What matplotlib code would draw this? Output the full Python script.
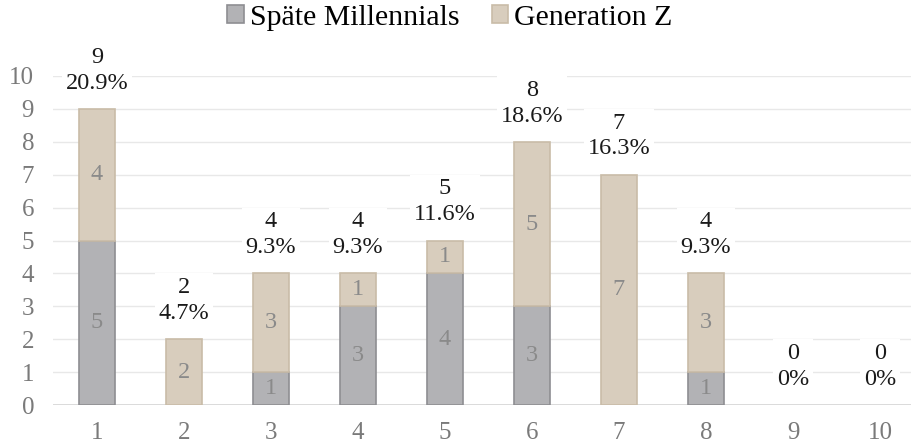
import matplotlib
matplotlib.use("Agg")
import matplotlib.pyplot as plt
import numpy as np

categories = ["1", "2", "3", "4", "5", "6", "7", "8", "9", "10"]
spaete_millennials = [5, 0, 1, 3, 4, 3, 0, 1, 0, 0]
generation_z = [4, 2, 3, 1, 1, 5, 7, 3, 0, 0]
series_names = ["Späte Millennials", "Generation Z"]

plt.rcParams['font.family'] = ['Liberation Serif', 'DejaVu Serif']

W, H = 912, 443
fig = plt.figure(figsize=(W / 100, H / 100), dpi=100)
left_px, right_px = 53.5, 923.5
bottom_px, top_px = 405, 76
ax = fig.add_axes([left_px / W, 1 - bottom_px / H, (right_px - left_px) / W, (bottom_px - top_px) / H])

x = np.arange(1, len(categories) + 1)
a = np.array(spaete_millennials)
b = np.array(generation_z)
totals = a + b
grand = totals.sum()

c_gray = "#b2b2b5"
e_gray = "#8e8e92"
c_tan = "#d8cdbd"
e_tan = "#c9bca8"
bw = 0.42

ax.bar(x, a, bw, color=c_gray, edgecolor=e_gray, linewidth=[1.2 if v > 0 else 0 for v in a],
       label=series_names[0], zorder=3)
ax.bar(x, b, bw, bottom=a, color=c_tan, edgecolor=e_tan, linewidth=[1.2 if v > 0 else 0 for v in b],
       label=series_names[1], zorder=3)

for xi, ai, bi in zip(x, a, b):
    if ai > 0:
        ax.text(xi, ai / 2, str(ai), ha='center', va='center', fontsize=17.5, color='#8a8a8a', zorder=4)
    if bi > 0:
        ax.text(xi, ai + bi / 2, str(bi), ha='center', va='center', fontsize=17.5, color='#8a8a8a', zorder=4)

for xi, t in zip(x, totals):
    pct = t / grand * 100
    pct_s = "0%" if t == 0 else f"{pct:.1f}%"
    ax.annotate(f"{t}\n{pct_s}", (xi, t), xytext=(0, 11), textcoords='offset points',
                ha='center', va='bottom', fontsize=17.5, color='#1a1a1a', linespacing=1.3,
                annotation_clip=False, zorder=5,
                bbox=dict(boxstyle='square,pad=0.15', facecolor='white', edgecolor='none'))

ax.set_xlim(0.5, 10.5)
ax.set_ylim(0, 10)
ax.set_yticks(range(0, 11))
ax.set_xticks(x)
ax.set_xticklabels(categories)
ax.tick_params(axis='both', length=0, labelsize=18, labelcolor='#7a7a7a')
ax.tick_params(axis='x', pad=12)
ax.tick_params(axis='y', pad=14)
ax.grid(axis='y', color='#e8e8e8', linewidth=1.0, zorder=0)
for s in ax.spines.values():
    s.set_visible(False)
ax.axhline(0, color='#d5d5d5', linewidth=1.2, zorder=2)

leg = fig.legend(loc='upper center', bbox_to_anchor=(450 / W, 1.05), ncol=2, frameon=False,
                 fontsize=21.5, handlelength=0.55, handleheight=0.55, handletextpad=0.2,
                 columnspacing=1.1)

fig.savefig("out.png", dpi=100)
